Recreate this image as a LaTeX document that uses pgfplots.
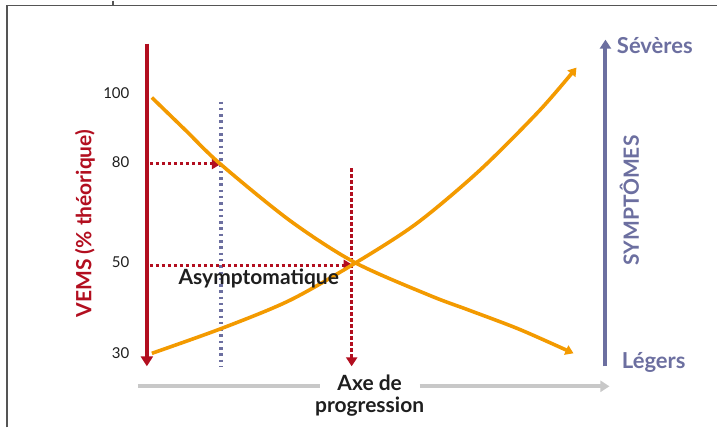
\documentclass[border=0pt]{standalone}
\usepackage{pgfplots}
\pgfplotsset{compat=1.18}
\usepackage{fontspec}
\setmainfont{Lato}
\usetikzlibrary{arrows.meta}
\definecolor{vred}{HTML}{B20E1F}
\definecolor{vorange}{HTML}{F39A00}
\definecolor{vblue}{HTML}{6C6FA0}
\definecolor{vgray}{HTML}{C8C8C8}
\definecolor{vtext}{HTML}{1E1E1E}
\definecolor{vframe}{HTML}{555555}
\tikzset{curve/.style={vorange, line width=3.6pt, smooth, -{Triangle[width=10pt,length=8pt]}}}
\tikzset{reddot/.style={vred, line width=3pt, dash pattern=on 3.5pt off 2.5pt}}

\begin{document}
\begin{tikzpicture}
\begin{axis}[
    x=1pt, y=1pt, y dir=reverse,
    xmin=0, xmax=718, ymin=0, ymax=427,
    hide axis, clip=false,
]
% page extent
\addplot[draw=none] coordinates {(0,0)(718,427)};
% frame
\addplot[vframe, line width=1.3pt] coordinates {(7,427)(7,5)(718,5)};
\addplot[vframe, line width=1.3pt] coordinates {(113,0)(113,5)};

% VEMS axis
\addplot[vred, line width=4pt, -{Triangle[width=12pt,length=10pt]}] coordinates {(147,43)(147,366)};
% symptomes axis
\addplot[vblue, line width=4pt, -{Triangle[width=11pt,length=9pt]}] coordinates {(606,366)(606,39)};
% progression axis
\addplot[vgray, line width=4pt] coordinates {(138,386)(320,386)};
\addplot[vgray, line width=4pt, -{Triangle[width=11pt,length=9pt]}] coordinates {(420,386)(610,386)};

% blue dotted guide
\addplot[vblue, line width=3.5pt, dash pattern=on 2.5pt off 3.8pt] coordinates {(221,101)(221,367)};
% red dotted guides
\addplot[reddot, -{Triangle[width=11pt,length=10pt]}] coordinates {(150,163)(222,163)};
\addplot[reddot, -{Triangle[width=11pt,length=10pt]}] coordinates {(150,265)(354,265)};
\addplot[reddot, -{Triangle[width=11pt,length=9pt]}] coordinates {(352,168)(352,366)};

% curves
\addplot[curve] coordinates {(152,97)(186,130)(220,163)(290,220)(355,262)(430,295)(470,310)(520,329)(574,353)};
\addplot[curve] coordinates {(152,353)(222,328)(290,300)(355,263)(417,223)(480,170)(540,110)(577,67)};

% labels
\node[anchor=east, font=\fontsize{15}{17}\selectfont, text=vtext] at (axis cs:133,93) {100};
\node[anchor=east, font=\fontsize{15}{17}\selectfont, text=vtext] at (axis cs:133,162) {80};
\node[anchor=east, font=\fontsize{15}{17}\selectfont, text=vtext] at (axis cs:133,262) {50};
\node[anchor=east, font=\fontsize{15}{17}\selectfont, text=vtext] at (axis cs:133,353) {30};
\node[rotate=90, font=\bfseries\fontsize{21}{23}\selectfont, text=vred] at (axis cs:85,223) {VEMS (\% théorique)};
\node[font=\bfseries\fontsize{21}{23}\selectfont, text=vtext] at (axis cs:259,278) {Asymptomatique};
\node[align=center, font=\bfseries\fontsize{21}{22}\selectfont, text=vtext] at (axis cs:370,395) {Axe de\\progression};
\node[anchor=west, font=\bfseries\fontsize{22}{24}\selectfont, text=vblue] at (axis cs:614,45) {Sévères};
\node[anchor=west, font=\bfseries\fontsize{22}{24}\selectfont, text=vblue] at (axis cs:619,362) {Légers};
\node[rotate=90, font=\bfseries\fontsize{21}{23}\selectfont, text=vblue] at (axis cs:630,200) {SYMPTÔMES};
\end{axis}
\end{tikzpicture}
\end{document}
